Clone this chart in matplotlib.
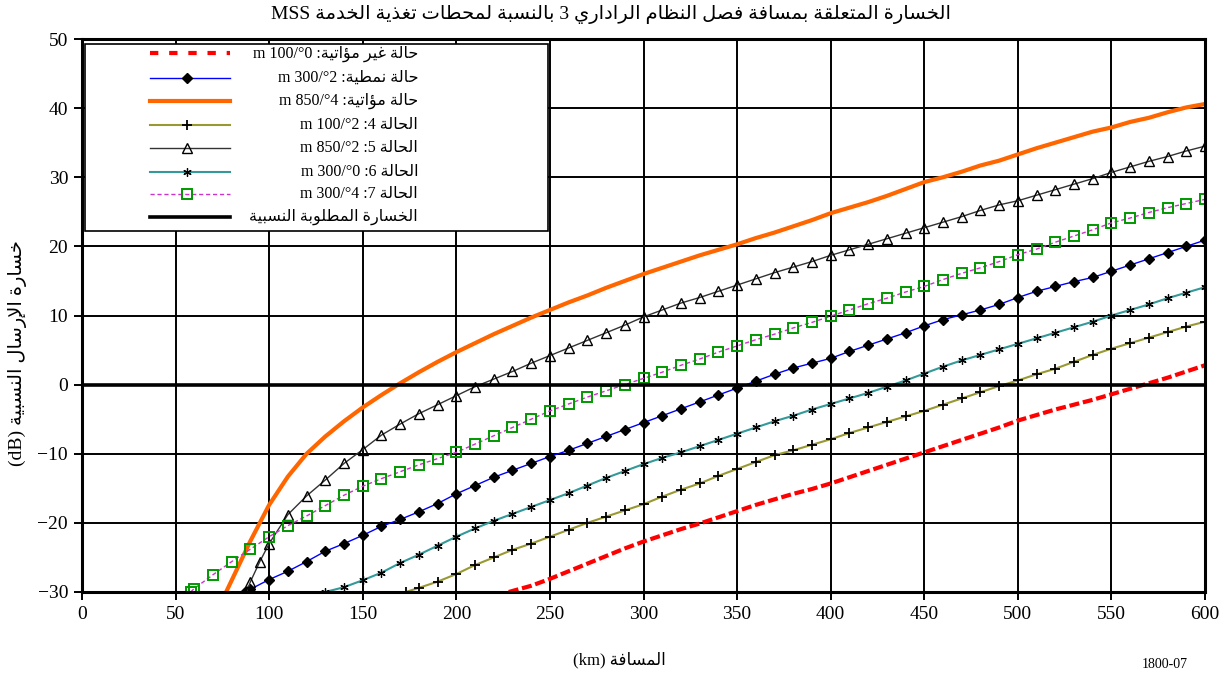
import matplotlib

matplotlib.use("Agg")
import matplotlib.pyplot as plt
from matplotlib.lines import Line2D
from matplotlib.patches import Rectangle

plt.rcParams["font.family"] = ["Liberation Serif", "DejaVu Sans"]
plt.rcParams["axes.unicode_minus"] = True

# distance (km) and relative transmission loss (dB) for each case
km_case1 = [228] + list(range(240, 601, 10))
db_case1 = [-30.0, -29.1, -28.1, -27.0, -25.9, -24.8, -23.7, -22.7, -21.8, -20.9,
            -20.1, -19.2, -18.3, -17.4, -16.6, -15.8, -15.1, -14.3, -13.4, -12.5,
            -11.6, -10.7, -9.8, -8.9, -8.0, -7.1, -6.2, -5.2, -4.4, -3.6,
            -2.9, -2.2, -1.4, -0.6, 0.2, 1.0, 1.9, 2.8]

km_case2 = [87, 90] + list(range(100, 601, 10))
db_case2 = [-30.0, -29.6, -28.2, -27.0, -25.6, -24.1, -23.0, -21.8, -20.5, -19.5,
            -18.4, -17.2, -15.8, -14.6, -13.4, -12.4, -11.4, -10.4, -9.5, -8.5,
            -7.5, -6.5, -5.5, -4.5, -3.5, -2.5, -1.5, -0.5, 0.5, 1.5,
            2.4, 3.1, 3.8, 4.8, 5.7, 6.6, 7.5, 8.5, 9.4, 10.1,
            10.8, 11.6, 12.6, 13.5, 14.2, 14.9, 15.5, 16.4, 17.3, 18.2,
            19.1, 20.0, 20.9]

km_case3 = [77, 80] + list(range(90, 601, 10))
db_case3 = [-30.0, -28.3, -22.6, -17.4, -13.3, -10.0, -7.5, -5.3, -3.3, -1.5,
            0.2, 1.8, 3.3, 4.7, 6.0, 7.3, 8.5, 9.7, 10.8, 11.9,
            12.9, 14.0, 15.0, 16.0, 16.9, 17.8, 18.7, 19.5, 20.3, 21.2,
            22.0, 22.9, 23.8, 24.8, 25.6, 26.4, 27.3, 28.3, 29.3, 30.0,
            30.8, 31.7, 32.4, 33.3, 34.2, 35.0, 35.8, 36.6, 37.2, 38.0,
            38.6, 39.4, 40.1, 40.6]

km_case4 = [173] + list(range(180, 601, 10))
db_case4 = [-30.0, -29.4, -28.5, -27.4, -26.1, -25.0, -23.9, -23.0, -22.0, -21.0,
            -20.0, -19.1, -18.2, -17.3, -16.2, -15.2, -14.3, -13.2, -12.2, -11.2,
            -10.2, -9.5, -8.7, -7.9, -7.0, -6.2, -5.4, -4.6, -3.8, -2.9,
            -2.0, -1.1, -0.2, 0.6, 1.5, 2.3, 3.3, 4.3, 5.2, 6.0,
            6.8, 7.6, 8.4, 9.1]

km_case5 = [88, 90, 95] + list(range(100, 601, 10))
db_case5 = [-30.0, -28.5, -25.6, -23.0, -18.8, -16.1, -13.8, -11.4, -9.4, -7.3,
            -5.7, -4.2, -2.9, -1.6, -0.3, 0.8, 1.9, 3.1, 4.2, 5.3,
            6.4, 7.5, 8.6, 9.8, 10.8, 11.8, 12.6, 13.5, 14.4, 15.3,
            16.2, 17.0, 17.8, 18.7, 19.5, 20.3, 21.1, 21.9, 22.7, 23.5,
            24.3, 25.2, 26.0, 26.6, 27.4, 28.2, 29.0, 29.8, 30.7, 31.5,
            32.3, 33.0, 33.8, 34.5]

km_case6 = list(range(130, 601, 10))
db_case6 = [-30.0, -29.3, -28.3, -27.2, -25.8, -24.6, -23.3, -22.0, -20.8, -19.7,
            -18.7, -17.7, -16.7, -15.7, -14.6, -13.5, -12.5, -11.5, -10.6, -9.8,
            -8.9, -8.0, -7.1, -6.2, -5.3, -4.5, -3.6, -2.8, -2.0, -1.2,
            -0.3, 0.6, 1.6, 2.6, 3.5, 4.3, 5.1, 5.9, 6.7, 7.5,
            8.3, 9.1, 10.0, 10.8, 11.6, 12.5, 13.3, 14.1]

km_case7 = [58, 60] + list(range(70, 601, 10))
db_case7 = [-30.0, -29.5, -27.5, -25.6, -23.8, -22.0, -20.4, -19.0, -17.5, -16.0,
            -14.7, -13.6, -12.6, -11.6, -10.7, -9.8, -8.6, -7.4, -6.2, -5.0,
            -3.8, -2.8, -1.8, -0.9, 0.0, 0.9, 1.8, 2.8, 3.7, 4.7,
            5.6, 6.5, 7.3, 8.2, 9.0, 9.9, 10.8, 11.7, 12.5, 13.4,
            14.2, 15.2, 16.1, 16.9, 17.8, 18.8, 19.6, 20.6, 21.5, 22.4,
            23.4, 24.1, 24.9, 25.6, 26.2, 26.8]

km_required = [0, 600]
db_required = [0, 0]

x_ticks = list(range(0, 601, 50))
y_ticks = list(range(-30, 51, 10))

# Arabic presentation forms: isolated code point and whether the letter joins on both sides
FORMS = {
    "ا": (0xFE8D, False), "إ": (0xFE87, False), "ؤ": (0xFE85, False),
    "ب": (0xFE8F, True), "ة": (0xFE93, False), "ت": (0xFE95, True),
    "ح": (0xFEA1, True), "خ": (0xFEA5, True), "د": (0xFEA9, False),
    "ذ": (0xFEAB, False), "ر": (0xFEAD, False), "س": (0xFEB1, True),
    "ص": (0xFEB9, True), "ط": (0xFEC1, True), "ظ": (0xFEC5, True),
    "ع": (0xFEC9, True), "غ": (0xFECD, True), "ف": (0xFED1, True),
    "ق": (0xFED5, True), "ل": (0xFEDD, True), "م": (0xFEE1, True),
    "ن": (0xFEE5, True), "و": (0xFEED, False), "ي": (0xFEF1, True),
}
LAM_ALEF = {"ا": 0xFEFB, "إ": 0xFEF9}


def rtl(text):
    """Shape Arabic text and return it in visual (left-to-right) order."""
    units = []
    i = 0
    while i < len(text):
        c = text[i]
        if c == "ل" and i + 1 < len(text) and text[i + 1] in LAM_ALEF:
            units.append(("LA", LAM_ALEF[text[i + 1]]))
            i += 2
        else:
            units.append((c, None))
            i += 1
    out = []
    for k, (c, lig) in enumerate(units):
        prev = units[k - 1][0] if k > 0 else None
        nxt = units[k + 1][0] if k + 1 < len(units) else None
        joins_prev = prev in FORMS and FORMS[prev][1]
        if lig is not None:
            out.append(chr(lig + (1 if joins_prev else 0)))
            continue
        if c not in FORMS:
            out.append(c)
            continue
        base, dual = FORMS[c]
        joins_next = dual and (nxt in FORMS or nxt == "LA")
        if joins_prev and joins_next:
            out.append(chr(base + 3))
        elif joins_prev:
            out.append(chr(base + 1))
        elif joins_next:
            out.append(chr(base + 2))
        else:
            out.append(chr(base))
    return "".join(reversed(out))


title = ("MSS " + rtl("بالنسبة لمحطات تغذية الخدمة") + " 3 "
         + rtl("الخسارة المتعلقة بمسافة فصل النظام الراداري"))
xlabel = "(km) " + rtl("المسافة")
ylabel = "(dB) " + rtl("خسارة الإرسال النسبية")
labels = [
    "m 100/°0 :" + rtl("حالة غير مؤاتية"),
    "m 300/°2 :" + rtl("حالة نمطية"),
    "m 850/°4 :" + rtl("حالة مؤاتية"),
    "m 100/°2 :4 " + rtl("الحالة"),
    "m 850/°2 :5 " + rtl("الحالة"),
    "m 300/°0 :6 " + rtl("الحالة"),
    "m 300/°4 :7 " + rtl("الحالة"),
    rtl("الخسارة المطلوبة النسبية"),
]

asterisk = (6, 2, 0)
styles = [
    dict(color="#FF0000", lw=3.0, dashes=(2.4, 0.9)),
    dict(color="#0000FF", lw=1.0, marker="D", ms=5, mfc="black", mec="black"),
    dict(color="#FF6600", lw=3.0),
    dict(color="#999933", lw=1.5, marker="+", ms=7, mew=1.3, mec="black"),
    dict(color="#333333", lw=1.0, marker="^", ms=7, mfc="none", mec="black", mew=1.0),
    dict(color="#339999", lw=1.5, marker=asterisk, ms=6, mew=0.9, mec="black"),
    dict(color="#CC33CC", lw=1.0, ls=(0, (3, 2)), marker="s", ms=7, mfc="none",
         mec="#009900", mew=1.4),
    dict(color="black", lw=2.6),
]

series = [
    (km_case1, db_case1), (km_case2, db_case2), (km_case3, db_case3),
    (km_case4, db_case4), (km_case5, db_case5), (km_case6, db_case6),
    (km_case7, db_case7), (km_required, db_required),
]

fig = plt.figure(figsize=(12.31, 6.82), dpi=100)
ax = fig.add_axes([82 / 1231, 1 - 592 / 682, 1123 / 1231, 553 / 682])

for (xs, ys), st in zip(series, styles):
    ax.plot(xs, ys, zorder=3, **st)

ax.set_xlim(0, 600)
ax.set_ylim(-30, 50)
ax.set_xticks(x_ticks)
ax.set_yticks(y_ticks)
ax.grid(True, color="black", lw=1.4)
ax.set_axisbelow(True)
for sp in ax.spines.values():
    sp.set_linewidth(2.2)
    sp.set_zorder(4)
ax.tick_params(direction="out", length=6, width=1.4, labelsize=14, pad=4)

# legend box drawn by hand so the labels can be right-aligned
ax.add_patch(Rectangle((0.0027, 0.6528), 0.412, 0.338, transform=ax.transAxes,
                       fc="white", ec="black", lw=1.2, zorder=5))
rows = [0.974, 0.930, 0.888, 0.8445, 0.8023, 0.760, 0.719, 0.6787]
for y, st, lab in zip(rows, styles, labels):
    st = dict(st)
    if "dashes" in st:
        st["dashes"] = (2.0, 2.6)
    ax.add_line(Line2D([0.0605, 0.0932, 0.1318], [y, y, y], transform=ax.transAxes,
                       markevery=[1], zorder=6, clip_on=False, **st))
    ax.text(0.2992, y, lab, transform=ax.transAxes, ha="right", va="center",
            fontsize=11.5, zorder=7)

fig.text(611 / 1231, 0.979, title, ha="center", va="center", fontsize=14)
fig.text(619 / 1231, 0.032, xlabel, ha="center", va="center", fontsize=12)
fig.text(18 / 1231, 1 - 353 / 682, ylabel, ha="center", va="center",
         rotation=90, fontsize=14)
fig.text(1165 / 1231, 0.025, "1800-07", ha="center", va="center", fontsize=10)

fig.savefig("out.png", dpi=100)
